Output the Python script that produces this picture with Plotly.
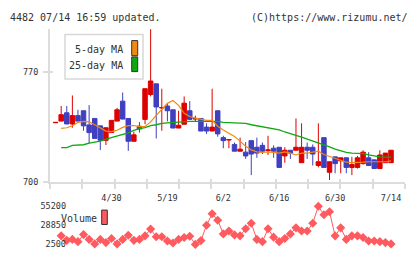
import plotly.graph_objects as go

# ---------------- data ----------------
idx = list(range(61))
opens  = [737.6,738.6,743.9,736.8,742.1,745.2,736.2,740.3,735.6,726.4,
          731.3,738.6,751.3,740.3,725.8,735.4,739.7,755.5,762.3,747.0,
          748.2,745.8,734.2,736.6,745.2,739.9,740.3,734.8,732.3,745.2,
          728.1,726.6,723.8,719.5,718.9,726.2,722.0,723.2,720.0,721.4,
          722.0,716.5,720.1,720.1,712.2,722.0,722.0,710.4,728.1,706.1,
          715.9,713.4,715.3,709.2,709.2,711.6,715.3,714.0,708.5,712.2,712.2]
highs  = [737.8,748.2,748.2,754.9,745.8,745.2,748.8,740.3,735.6,734.4,
          739.1,747.0,756.8,740.3,731.9,738.0,759.2,797.0,762.3,759.2,
          750.0,745.8,745.2,754.3,751.3,742.1,740.3,737.2,759.2,745.2,
          729.3,726.9,725.0,728.1,725.3,726.2,728.1,725.0,729.3,723.2,
          722.0,722.0,720.1,740.3,737.2,725.0,723.8,737.2,728.1,712.8,
          715.9,715.3,715.3,715.9,716.5,720.1,718.9,714.0,720.1,718.3,720.1]
lows   = [737.6,738.6,736.8,734.4,738.6,732.5,724.6,727.6,720.3,723.4,
          731.3,738.6,739.9,719.7,725.8,731.3,736.6,754.3,727.6,732.5,
          738.4,734.2,734.2,736.6,739.7,738.4,732.3,730.5,732.3,728.7,
          721.4,721.4,719.5,719.5,714.6,704.3,715.3,717.7,717.1,715.3,
          709.2,712.2,714.6,720.1,712.2,714.6,710.4,709.2,709.2,701.2,
          705.5,705.5,705.5,704.3,708.5,711.0,710.4,708.5,708.5,712.2,712.2]
closes = [737.8,742.7,736.8,742.1,738.6,735.6,731.3,727.6,726.4,734.4,
          739.1,745.8,739.9,725.8,729.9,733.6,759.2,764.1,747.6,747.2,
          745.2,734.2,736.0,750.0,739.7,740.3,732.3,732.3,734.8,730.5,
          726.2,726.9,719.5,720.8,716.5,717.7,718.3,719.5,720.3,719.5,
          709.2,720.1,718.3,722.0,722.0,720.1,717.7,712.8,709.2,712.8,
          711.6,715.3,709.2,711.0,715.3,718.9,710.4,708.5,717.1,718.3,720.1]

ma_idx = list(range(1, 61))
ma5 = [734.0,734.4,735.7,737.8,738.4,738.1,736.3,734.2,732.3,731.9,
       732.8,734.6,735.7,735.8,735.1,735.2,738.1,742.2,746.4,749.9,
       751.7,748.6,743.6,741.5,740.5,739.7,739.1,739.1,735.4,733.0,
       731.1,728.9,725.9,722.6,720.3,719.1,718.7,719.1,718.7,718.3,
       719.0,718.3,717.1,718.3,718.3,719.0,719.5,717.4,716.2,715.3,
       714.0,712.5,712.2,712.2,712.5,712.8,712.8,712.8,712.8,713.4]
ma25 = [721.8,721.8,723.2,723.6,723.6,724.7,725.3,725.9,727.2,728.1,
        729.3,730.2,731.1,732.7,733.9,734.5,735.7,736.3,737.2,737.5,
        737.8,738.0,738.3,738.4,738.4,738.4,738.4,738.4,738.4,737.8,
        737.7,737.5,737.4,737.2,736.3,735.7,734.8,734.2,733.6,733.0,
        731.7,730.8,729.6,728.4,727.2,726.2,725.0,723.8,722.3,720.8,
        719.7,718.7,718.3,718.3,717.9,717.1,716.3,715.9,715.7,715.7]

volumes = [14300,8100,9400,6300,16000,9400,3200,9400,5000,10700,
           3200,9400,15100,8100,9400,14300,23600,13000,13000,7100,
           4500,9400,12100,13800,2500,7700,28900,44800,35900,17000,
           20900,15600,14300,24000,31600,9400,6300,24000,12500,6300,
           10700,17000,25300,20900,20900,31600,55200,43500,47500,14300,
           25300,9400,14300,14300,12100,7100,7100,6300,5000,3200]

date_ticks = [10, 20, 30, 40, 50, 60]
date_labels = ["4/30", "5/19", "6/2", "6/16", "6/30", "7/14"]
price_ticks = [700, 770]
vol_ticks = [2500, 28850, 55200]
vol_tick_text = ["2500", "28850", "55200"]

# ---------------- layout helpers ----------------
W, H = 420, 259
def px(x): return x / W
def py(y): return 1 - y / H

MONO = "DejaVu Sans Mono"
RED = "#dd0000"
BLUE = "#3f3fbf"
ORANGE = "#f08a10"
GREEN = "#10a810"
VOLC = "#ff5a5f"
AXC = "#dcdcdc"
XR = [-1, 62.5]
YR = [700, 797.1]
grid_ticks = [XR[0] + i * (XR[1] - XR[0]) / 11 for i in range(12)]

fig = go.Figure()
fig.add_trace(go.Candlestick(
    x=idx, open=opens, high=highs, low=lows, close=closes,
    increasing=dict(line=dict(color=RED, width=1), fillcolor=RED),
    decreasing=dict(line=dict(color=BLUE, width=1), fillcolor=BLUE),
    whiskerwidth=0, xaxis="x", yaxis="y", showlegend=False))
fig.add_trace(go.Scatter(x=ma_idx, y=ma25, mode="lines",
                         line=dict(color=GREEN, width=1.3), xaxis="x", yaxis="y",
                         showlegend=False))
fig.add_trace(go.Scatter(x=ma_idx, y=ma5, mode="lines",
                         line=dict(color=ORANGE, width=1.2), xaxis="x", yaxis="y",
                         showlegend=False))
fig.add_trace(go.Scatter(x=ma_idx, y=volumes, mode="lines+markers",
                         line=dict(color=VOLC, width=1),
                         marker=dict(symbol="diamond", size=7, color=VOLC),
                         cliponaxis=False, xaxis="x2", yaxis="y2", showlegend=False))
# empty helper traces so that the overlay axes (crossing ticks, date labels) get drawn
fig.add_trace(go.Scatter(x=[None], y=[None], xaxis="x3", yaxis="y", showlegend=False, hoverinfo="skip"))
fig.add_trace(go.Scatter(x=[None], y=[None], xaxis="x4", yaxis="y", showlegend=False, hoverinfo="skip"))
fig.add_trace(go.Scatter(x=[None], y=[None], xaxis="x", yaxis="y3", showlegend=False, hoverinfo="skip"))

dom_x = [px(50), px(405)]
tickfont = dict(family=MONO, size=8.5, color="#333")

fig.update_layout(
    width=W, height=H, margin=dict(l=0, r=0, t=0, b=0),
    paper_bgcolor="white", plot_bgcolor="white",
    boxgap=0.2, boxgroupgap=0.0,
    xaxis=dict(domain=dom_x, range=XR, anchor="y", showline=True, linecolor=AXC, linewidth=2,
               ticks="outside", ticklen=5, tickwidth=2, tickcolor=AXC, tickvals=grid_ticks,
               showticklabels=False, showgrid=False, zeroline=False,
               rangeslider=dict(visible=False), fixedrange=True),
    xaxis3=dict(overlaying="x", anchor="y", range=XR, showline=False, ticks="inside", ticklen=3,
                tickwidth=2, tickcolor=AXC, tickvals=grid_ticks, showticklabels=False,
                showgrid=False, zeroline=False),
    xaxis4=dict(overlaying="x", anchor="y", range=XR, showline=False, ticks="",
                tickvals=date_ticks, ticktext=date_labels, tickfont=tickfont,
                ticklabelstandoff=10, showgrid=False, zeroline=False),
    yaxis=dict(domain=[py(184), py(25)], range=YR, anchor="x", showline=True,
               linecolor=AXC, linewidth=2, ticks="outside", ticklen=5, tickwidth=2,
               tickcolor=AXC, tickvals=price_ticks, tickfont=tickfont,
               ticklabelstandoff=3, showgrid=False, zeroline=False),
    yaxis3=dict(overlaying="y", anchor="x", range=YR, showline=False, ticks="inside",
                ticklen=3, tickwidth=2, tickcolor=AXC, tickvals=price_ticks,
                showticklabels=False, showgrid=False, zeroline=False),
    xaxis2=dict(domain=dom_x, range=XR, anchor="y2", visible=False),
    yaxis2=dict(domain=[py(249), py(209.3)], range=[2500, 55200], anchor="x2", showline=False,
                ticks="", tickvals=vol_ticks, ticktext=vol_tick_text, tickfont=tickfont,
                ticklabelstandoff=-17, showgrid=False, zeroline=False),
)

# header texts
fig.add_annotation(x=px(8), y=py(12.7), xref="paper", yref="paper", xanchor="left", yanchor="middle",
                   text="4482 07/14 16:59 updated.", showarrow=False,
                   font=dict(family=MONO, size=10, color="#333"))
fig.add_annotation(x=px(410), y=py(12.7), xref="paper", yref="paper", xanchor="right", yanchor="middle",
                   text="(C)https://www.rizumu.net/", showarrow=False,
                   font=dict(family=MONO, size=10, color="#333"))

# legend box (main)
fig.add_shape(type="rect", xref="paper", yref="paper", x0=px(65), x1=px(143), y0=py(77), y1=py(30.7),
              line=dict(color="#d8d8d8", width=1.5), fillcolor="white", layer="above")
for label, yc, col, y0, y1 in [("5-day MA", 46, ORANGE, 37, 52.7), ("25-day MA", 63.3, GREEN, 54, 69.3)]:
    fig.add_annotation(x=px(125), y=py(yc), xref="paper", yref="paper", xanchor="right", yanchor="middle",
                       text=label, showarrow=False, font=dict(family=MONO, size=10, color="#333"))
    fig.add_shape(type="rect", xref="paper", yref="paper", x0=px(131.7), x1=px(137.7), y0=py(y1), y1=py(y0),
                  line=dict(color="#333", width=1), fillcolor=col, layer="above")

# volume legend
fig.add_annotation(x=px(59), y=py(222.3), xref="paper", yref="paper", xanchor="left", yanchor="middle",
                   text="Volume", showarrow=False, font=dict(family=MONO, size=10, color="#333"))
fig.add_shape(type="rect", xref="paper", yref="paper", x0=px(101.7), x1=px(107.3), y0=py(228.3), y1=py(213.3),
              line=dict(color="#333", width=1), fillcolor=VOLC, layer="above")

fig.write_html("out.html")
